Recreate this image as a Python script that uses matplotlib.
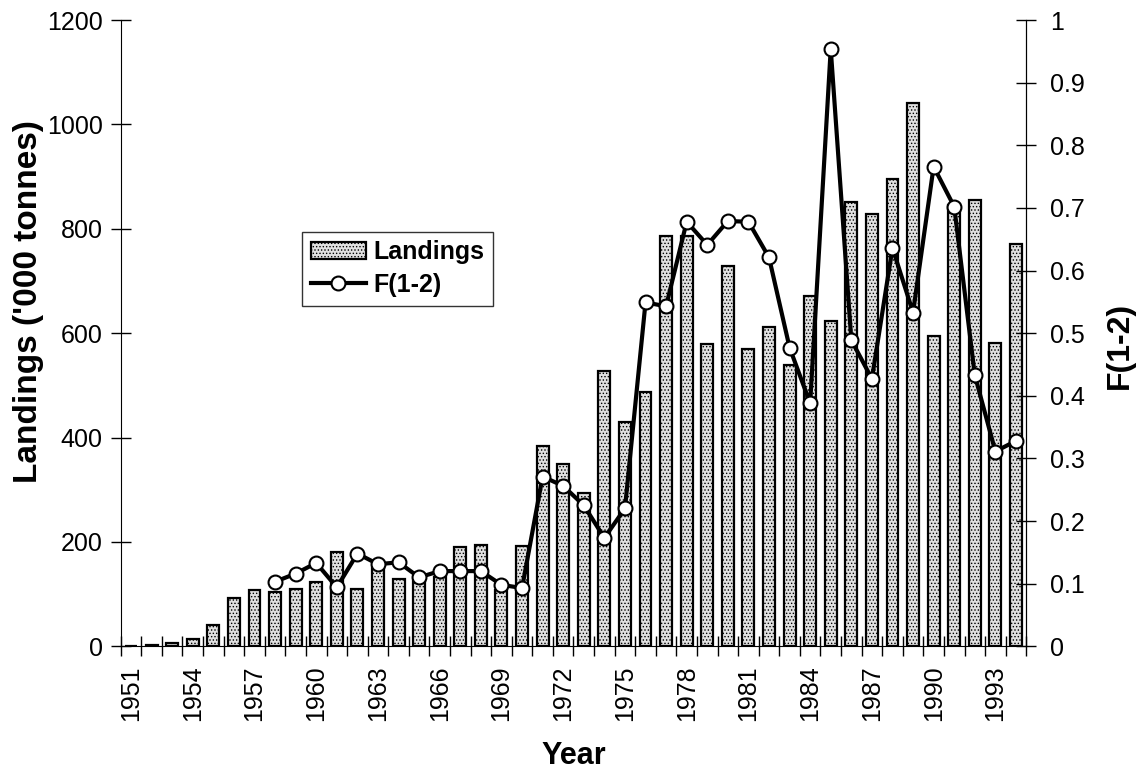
import numpy as np
import matplotlib.pyplot as plt
from matplotlib.ticker import FuncFormatter

plt.rcParams['font.family'] = ['Liberation Sans', 'DejaVu Sans']
plt.rcParams['hatch.linewidth'] = 0.6

# Data
years = list(range(1951, 1995))
landings = [1, 3, 7, 13, 40, 92, 108, 104, 110, 124,
            180, 110, 150, 128, 125, 132, 190, 194, 108, 193,
            383, 350, 294, 527, 430, 488, 786, 787, 580, 729,
            569, 611, 539, 671, 623, 851, 828, 895, 1042, 595,
            845, 855, 581, 770]
f_years = list(range(1958, 1995))
f_values = [0.103, 0.116, 0.133, 0.094, 0.148, 0.131, 0.134, 0.110, 0.120, 0.120,
            0.120, 0.098, 0.093, 0.271, 0.256, 0.225, 0.173, 0.220, 0.549, 0.543,
            0.678, 0.641, 0.679, 0.678, 0.621, 0.477, 0.388, 0.954, 0.489, 0.427,
            0.636, 0.533, 0.766, 0.702, 0.433, 0.311, 0.328]

x = np.arange(len(years))
fx = np.array([years.index(y) for y in f_years])

fig = plt.figure(figsize=(11.39, 7.73), dpi=100)
ax = fig.add_axes([0.106, 0.164, 0.795, 0.810])
ax2 = ax.twinx()

bars = ax.bar(x, landings, width=0.58, facecolor='#e0e0e0', edgecolor='black',
              linewidth=1.6, hatch='.....', label='Landings')
line, = ax2.plot(fx, f_values, color='black', linewidth=3, marker='o', markersize=10,
                 markerfacecolor='white', markeredgecolor='black', markeredgewidth=1.5,
                 label='F(1-2)')

ax.set_xlim(-0.5, len(years) - 0.5)
ax.set_ylim(0, 1200)
ax2.set_ylim(0, 1)
ax.set_yticks(range(0, 1201, 200))
ax2.set_yticks(np.arange(0, 1.01, 0.1))
ax2.yaxis.set_major_formatter(FuncFormatter(lambda v, p: f'{v:g}'))

# year labels every 3 years, ticks at category boundaries
ax.set_xticks(x[::3])
ax.set_xticklabels([str(y) for y in years[::3]], rotation=90)
ax.set_xticks(np.arange(-0.5, len(years), 1), minor=True)
ax.tick_params(axis='x', which='major', length=0, labelsize=18, pad=14)
ax.tick_params(axis='x', which='minor', length=14, direction='inout', width=1)
ax.tick_params(axis='y', length=14, direction='inout', labelsize=18, width=1, pad=6)
ax2.tick_params(axis='y', length=14, direction='inout', labelsize=18, width=1, pad=10)

for a in (ax, ax2):
    a.spines['top'].set_visible(False)
ax2.spines['left'].set_visible(False)
ax2.spines['bottom'].set_visible(False)

ax.set_xlabel('Year', fontsize=22, fontweight='bold', labelpad=14)
ax.set_ylabel("Landings ('000 tonnes)", fontsize=24, fontweight='bold')
ax.yaxis.set_label_coords(-0.085, 0.55)
ax2.set_ylabel('F(1-2)', fontsize=23, fontweight='bold')
ax2.yaxis.set_label_coords(1.087, 0.48)

leg = ax2.legend([bars, line], ['Landings', 'F(1-2)'], loc='upper left',
                 bbox_to_anchor=(0.2, 0.662), fontsize=18, frameon=True, fancybox=False,
                 edgecolor='black', handlelength=2.2, handletextpad=0.3,
                 borderpad=0.35, labelspacing=0.35, borderaxespad=0)
leg.get_frame().set_linewidth(1)
for t in leg.get_texts():
    t.set_fontweight('bold')

fig.savefig('out.png', dpi=100)
